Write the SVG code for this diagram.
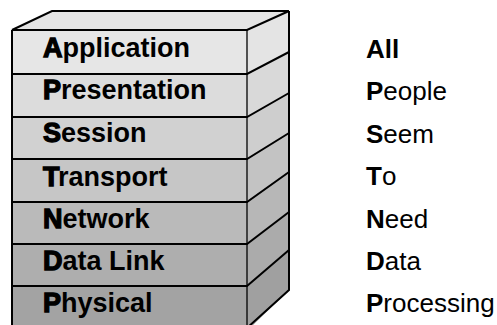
<svg xmlns="http://www.w3.org/2000/svg" width="497" height="325" viewBox="0 0 497 325">
<style>
  .edge{fill:none;stroke:#000;stroke-width:2;stroke-linejoin:miter}
  .thin{fill:none;stroke:#000;stroke-width:1.3}
  .lbl{font-family:"Liberation Sans",Arial,sans-serif;font-weight:bold;font-size:27px;fill:#000}
  .ini{stroke:#000;stroke-width:1.3}
  .mn{font-family:"Liberation Sans",Arial,sans-serif;font-size:26px;fill:#000}
  .b{font-weight:bold}
</style>
<rect width="497" height="325" fill="#fff"/>
<g id="top">
  <polygon points="12,30 52,11 289,11 247,30" fill="#e4e4e4"/>
  <path class="edge" d="M12,30 L52,11 L289,11"/>
</g>
<g id="application">
  <rect x="12" y="30" width="235" height="44" fill="#e6e6e6"/>
  <polygon points="247,30 289,11 289,52 247,74" fill="#e4e4e4"/>
  <path class="edge" d="M12,30 H247 L289,11"/>
  <text class="lbl" x="43" y="57"><tspan class="ini">A</tspan>pplication</text>
</g>
<g id="presentation">
  <rect x="12" y="74" width="235" height="43" fill="#dcdcdc"/>
  <polygon points="247,74 289,52 289,93 247,117" fill="#d9d9d9"/>
  <path class="edge" d="M12,74 H247 L289,52"/>
  <text class="lbl" x="43" y="99"><tspan class="ini">P</tspan>resentation</text>
</g>
<g id="session">
  <rect x="12" y="117" width="235" height="42" fill="#d1d1d1"/>
  <polygon points="247,117 289,93 289,133 247,159" fill="#cecece"/>
  <path class="edge" d="M12,117 H247 L289,93"/>
  <text class="lbl" x="43" y="142"><tspan class="ini">S</tspan>ession</text>
</g>
<g id="transport">
  <rect x="12" y="159" width="235" height="43" fill="#c6c6c6"/>
  <polygon points="247,159 289,133 289,172 247,202" fill="#c3c3c3"/>
  <path class="edge" d="M12,159 H247 L289,133"/>
  <text class="lbl" x="43" y="186"><tspan class="ini">T</tspan>ransport</text>
</g>
<g id="network">
  <rect x="12" y="202" width="235" height="42" fill="#bababa"/>
  <polygon points="247,202 289,172 289,212 247,244" fill="#b7b7b7"/>
  <path class="edge" d="M12,202 H247 L289,172"/>
  <text class="lbl" x="43" y="228"><tspan class="ini">N</tspan>etwork</text>
</g>
<g id="datalink">
  <rect x="12" y="244" width="235" height="42" fill="#aeaeae"/>
  <polygon points="247,244 289,212 289,250 247,286" fill="#ababab"/>
  <path class="edge" d="M12,244 H247 L289,212"/>
  <text class="lbl" x="43" y="270"><tspan class="ini">D</tspan>ata Link</text>
</g>
<g id="physical">
  <rect x="12" y="286" width="235" height="45" fill="#a3a3a3"/>
  <polygon points="247,286 289,250 289,290 247,331" fill="#a0a0a0"/>
  <path class="edge" d="M12,286 H247 L289,250"/>
  <text class="lbl" x="43" y="312"><tspan class="ini">P</tspan>hysical</text>
</g>
<g id="frame">
  <path class="edge" d="M12,30 V326"/>
  <path class="edge" d="M289,11 V290 L247,328"/>
  <path class="thin" d="M247,30 V326"/>
</g>
<g id="mnemonic">
  <text class="mn b" x="366" y="58">All</text>
  <text class="mn" x="366" y="100"><tspan class="b">P</tspan>eople</text>
  <text class="mn" x="366" y="143"><tspan class="b">S</tspan>eem</text>
  <text class="mn" x="366" y="185"><tspan class="b">T</tspan>o</text>
  <text class="mn" x="366" y="228"><tspan class="b">N</tspan>eed</text>
  <text class="mn" x="366" y="270"><tspan class="b">D</tspan>ata</text>
  <text class="mn" x="366" y="312"><tspan class="b">P</tspan>rocessing</text>
</g>
</svg>
